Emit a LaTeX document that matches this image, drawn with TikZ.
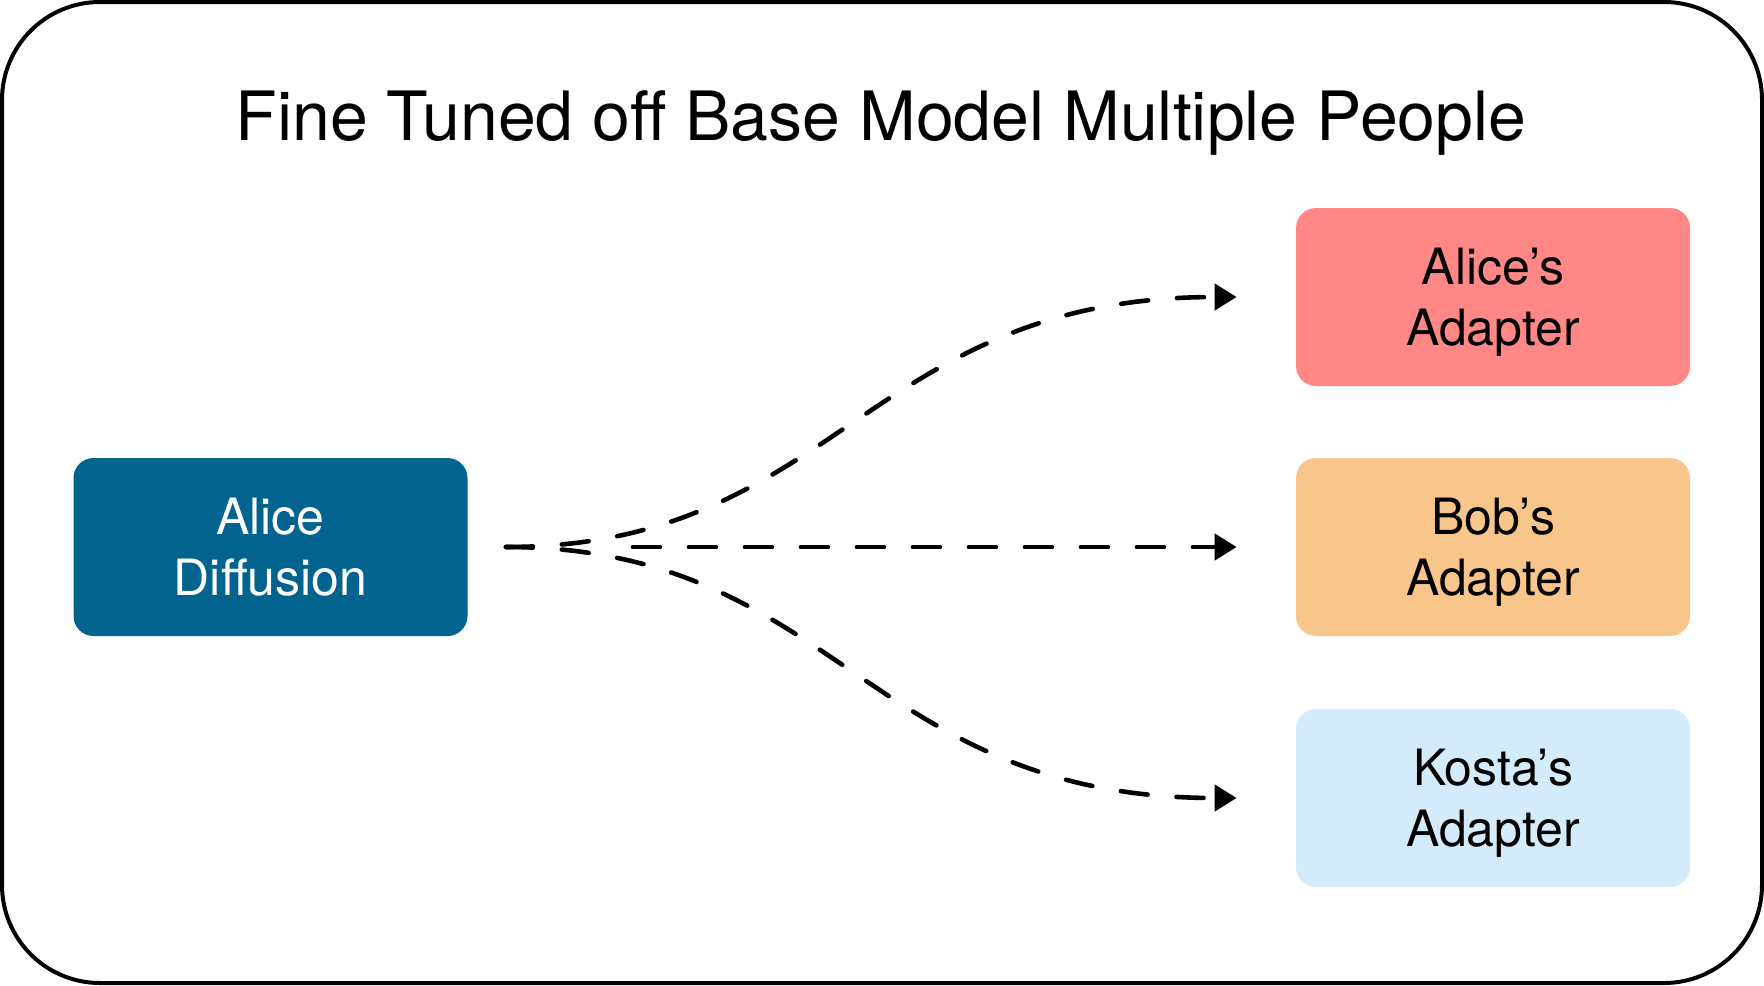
\documentclass[tikz,border=0pt]{standalone}
\usepackage{fontspec}
\setmainfont{TeX Gyre Heros}
\usepackage{xcolor}
\usepackage{tikz}
\usetikzlibrary{arrows.meta}
\definecolor{frame}{HTML}{000000}
\definecolor{basecol}{HTML}{02638F}
\definecolor{alicecol}{HTML}{FF8785}
\definecolor{bobcol}{HTML}{F8C68B}
\definecolor{kostacol}{HTML}{D4EBFB}
\tikzset{
  panel/.style={draw=frame, line width=2pt, rounded corners=49pt},
  block/.style={rounded corners=10pt, minimum width=197pt, minimum height=89pt,
    inner sep=0pt, align=center, text depth=0pt, font=\fontsize{25}{30.5}\selectfont},
  flow/.style={draw=black, line width=2.3pt, line cap=round,
    dash pattern=on 13.5pt off 14.5pt, -{Triangle[length=11pt,width=13pt]}},
  title/.style={font=\fontsize{34}{40}\selectfont},
}

\begin{document}
\begin{tikzpicture}[x=0.5pt, y=-0.5pt]
  \useasboundingbox (0,0) rectangle (1764,985);
  \draw[panel] (2,2) rectangle (1762,983);

  \node[title, anchor=base] (head) at (881,140) {Fine Tuned off Base Model Multiple People};

  % base model on the left, adapters on the right
  \node[block, fill=basecol, text=white] (diffusion) at (270.5,547) {Alice\\Diffusion};
  \node[block, fill=alicecol] (alice) at (1493,297) {Alice’s\\Adapter};
  \node[block, fill=bobcol] (bob) at (1493,547) {Bob’s\\Adapter};
  \node[block, fill=kostacol] (kosta) at (1493,798) {Kosta’s\\Adapter};

  \coordinate (fork) at ([xshift=19pt]diffusion.east);
  \coordinate (forkMid) at ([xshift=82.5pt]diffusion.east);
  \coordinate (aliceIn) at ([xshift=-29.5pt]alice.west);
  \coordinate (bobIn) at ([xshift=-29.5pt]bob.west);
  \coordinate (kostaIn) at ([xshift=-29.5pt]kosta.west);

  \draw[flow] (fork) .. controls +(165pt,0) and +(-185pt,0) .. (aliceIn);
  \draw[flow] (forkMid) -- (bobIn);
  \draw[flow] (fork) .. controls +(165pt,0) and +(-185pt,0) .. (kostaIn);
\end{tikzpicture}
\end{document}
